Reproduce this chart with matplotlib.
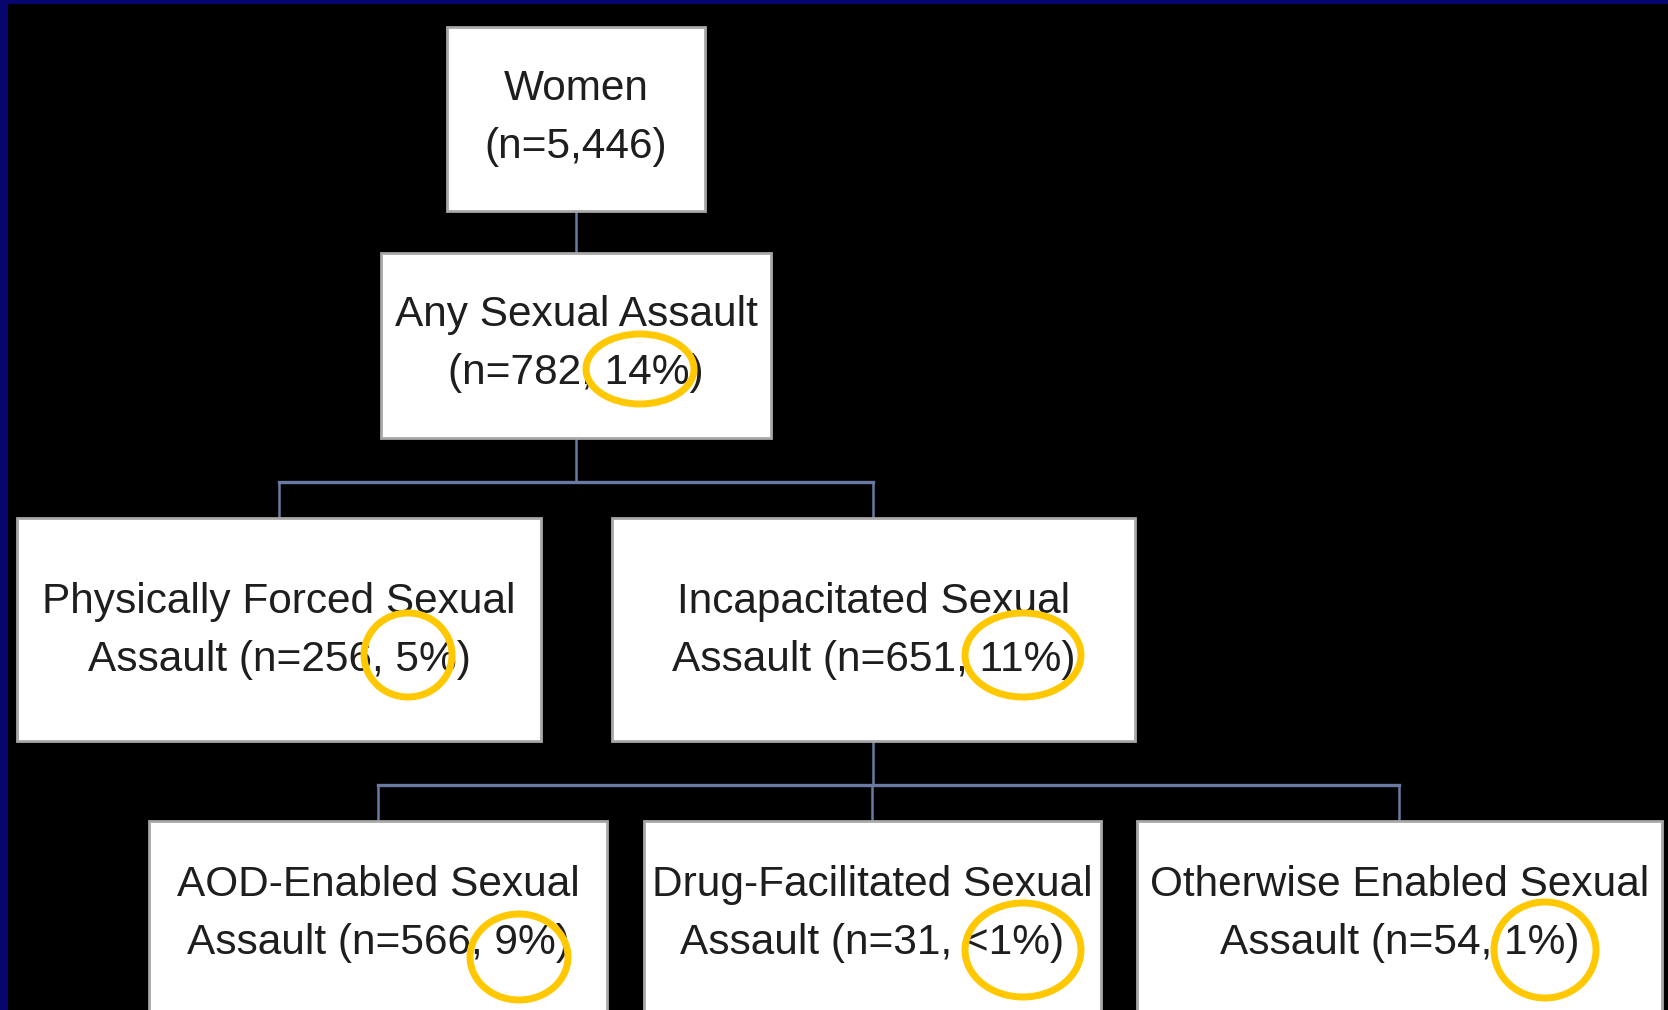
import matplotlib
matplotlib.use("Agg")
import matplotlib.pyplot as plt
from matplotlib.patches import Rectangle, Ellipse
from matplotlib import font_manager

W, H = 1668, 1010

# ---- content ----
labels = [
    "Women\n(n=5,446)",
    "Any Sexual Assault\n(n=782, 14%)",
    "Physically Forced Sexual\nAssault (n=256, 5%)",
    "Incapacitated Sexual\nAssault (n=651, 11%)",
    "AOD-Enabled Sexual\nAssault (n=566, 9%)",
    "Drug-Facilitated Sexual\nAssault (n=31, <1%)",
    "Otherwise Enabled Sexual\nAssault (n=54, 1%)",
]
counts = [5446, 782, 256, 651, 566, 31, 54]
percents = ["", "14%", "5%", "11%", "9%", "<1%", "1%"]
parents = [None, 0, 1, 1, 3, 3, 3]

# ---- layout (pixel units) ----
box_x0 = [447, 381, 17, 612, 149, 644, 1137]
box_x1 = [705, 771, 541, 1135, 607, 1101, 1662]
box_y0 = [27, 253, 518, 518, 821, 821, 821]
box_y1 = [211, 438, 741, 741, 1030, 1030, 1030]
text_y = [118, 344, 631, 631, 914, 914, 914]
bus_y = {0: None, 1: 482, 3: 785}

ell_cx = [None, 640, 408, 1023, 519, 1023, 1545]
ell_cy = [None, 369, 655, 655, 957, 950, 950]
ell_w = [None, 108, 88, 116, 98, 116, 102]
ell_h = [None, 70, 84, 84, 86, 94, 96]

names = {f.name for f in font_manager.fontManager.ttflist}
if "Liberation Sans Narrow" in names:
    fam = ["Liberation Sans Narrow", "DejaVu Sans"]
    fsize = 37.5
    lsp = 1.0
else:
    fam = ["Liberation Sans", "DejaVu Sans"]
    fsize = 30.5
    lsp = 1.55

fig = plt.figure(figsize=(W / 100, H / 100), dpi=100)
fig.patch.set_facecolor("#000000")
ax = fig.add_axes([0, 0, 1, 1])
ax.set_xlim(0, W)
ax.set_ylim(H, 0)
ax.axis("off")
ax.set_facecolor("#000000")

ax.add_patch(Rectangle((0, 0), W, 4, facecolor="#06066e", edgecolor="none", zorder=1))
ax.add_patch(Rectangle((0, 0), 8, H, facecolor="#06066e", edgecolor="none", zorder=1))

line_col = "#6b7aa3"
lw_conn = 1.8

def cx(i):
    return (box_x0[i] + box_x1[i]) / 2

children = {}
for i, p in enumerate(parents):
    if p is not None:
        children.setdefault(p, []).append(i)
for p, ch in children.items():
    if len(ch) == 1:
        c = ch[0]
        ax.plot([cx(p), cx(p)], [box_y1[p], box_y0[c]], color=line_col, lw=lw_conn, zorder=2)
    else:
        by = bus_y[p]
        ax.plot([cx(p), cx(p)], [box_y1[p], by], color=line_col, lw=lw_conn, zorder=2)
        xs = [cx(c) for c in ch]
        ax.plot([min(xs), max(xs)], [by, by], color=line_col, lw=lw_conn + 0.6, zorder=2)
        for c in ch:
            ax.plot([cx(c), cx(c)], [by, box_y0[c]], color=line_col, lw=lw_conn, zorder=2)

for i, lab in enumerate(labels):
    ax.add_patch(Rectangle((box_x0[i], box_y0[i]), box_x1[i] - box_x0[i], box_y1[i] - box_y0[i],
                           facecolor="white", edgecolor="#a8a8a8", lw=2.0, zorder=3))
    ax.text(cx(i), text_y[i], lab, ha="center", va="center", fontsize=fsize,
            family=fam, color="#1e1e1e", linespacing=lsp, zorder=4)

for i in range(len(labels)):
    if ell_cx[i] is None:
        continue
    ax.add_patch(Ellipse((ell_cx[i], ell_cy[i]), ell_w[i], ell_h[i], facecolor="none",
                         edgecolor="#ffc800", lw=5.0, zorder=5))

fig.savefig("out.png", dpi=100, facecolor=fig.get_facecolor())
